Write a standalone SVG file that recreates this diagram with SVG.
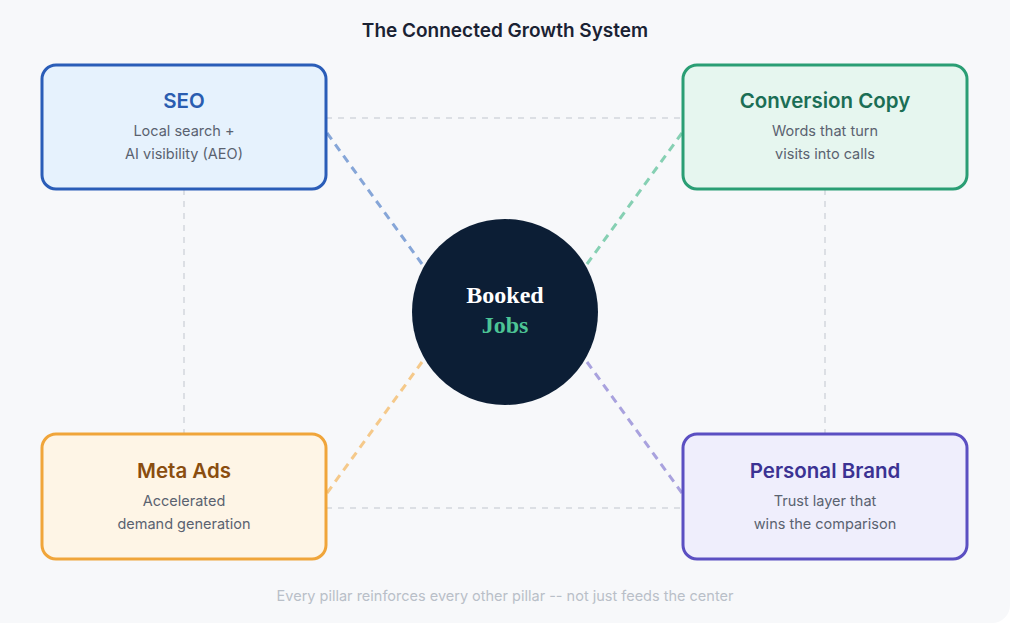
<svg xmlns="http://www.w3.org/2000/svg" width="1024" height="627" viewBox="0 0 1024 627">
<defs>
<style>
.box{stroke-width:3}
.t{font-family:Inter,"Noto Sans","Liberation Sans",sans-serif;text-anchor:middle}
.h{font-size:20.5px;font-weight:600}
.s{font-size:14.5px;fill:#5a6270}
.grid{stroke:#dcdfe4;stroke-width:2;stroke-dasharray:6 6;fill:none}
.spoke{stroke-width:3;stroke-dasharray:8 6;fill:none}
</style>
</defs>
<rect x="0" y="0" width="1024" height="627" fill="#ffffff"/>
<rect x="-20" y="-20" width="1030" height="643" rx="18" fill="#f7f8fa"/>
<text class="t" x="505" y="37" font-size="19" font-weight="600" fill="#1a2233">The Connected Growth System</text>
<g id="connectors">
<line class="grid" x1="326" y1="118" x2="683" y2="118"/>
<line class="grid" x1="326" y1="508" x2="683" y2="508"/>
<line class="grid" x1="184" y1="189" x2="184" y2="434"/>
<line class="grid" x1="825" y1="189" x2="825" y2="434"/>
<line class="spoke" x1="327" y1="133" x2="422" y2="264" stroke="#86a6d8"/>
<line class="spoke" x1="682" y1="133" x2="587" y2="264" stroke="#86d0b3"/>
<line class="spoke" x1="327" y1="493" x2="422" y2="362" stroke="#f5c98a"/>
<line class="spoke" x1="682" y1="493" x2="587" y2="362" stroke="#a9a2de"/>
</g>
<g id="seo">
<rect class="box" x="42" y="65" width="284" height="124" rx="14" fill="#e6f2fd" stroke="#2a5db8"/>
<text class="t h" x="184" y="108" fill="#2a5db0">SEO</text>
<text class="t s" x="184" y="136">Local search +</text>
<text class="t s" x="184" y="159">AI visibility (AEO)</text>
</g>
<g id="conversion-copy">
<rect class="box" x="683" y="65" width="284" height="124" rx="14" fill="#e6f6ef" stroke="#2a9e74"/>
<text class="t h" x="825" y="108" fill="#1b6e55">Conversion Copy</text>
<text class="t s" x="825" y="136">Words that turn</text>
<text class="t s" x="825" y="159">visits into calls</text>
</g>
<g id="meta-ads">
<rect class="box" x="42" y="434" width="284" height="125" rx="14" fill="#fef5e6" stroke="#f0a53a"/>
<text class="t h" x="184" y="478" fill="#8a4d0f">Meta Ads</text>
<text class="t s" x="184" y="506">Accelerated</text>
<text class="t s" x="184" y="529">demand generation</text>
</g>
<g id="personal-brand">
<rect class="box" x="683" y="434" width="284" height="125" rx="14" fill="#efeefc" stroke="#5b4fc2"/>
<text class="t h" x="825" y="478" fill="#3b3293">Personal Brand</text>
<text class="t s" x="825" y="506">Trust layer that</text>
<text class="t s" x="825" y="529">wins the comparison</text>
</g>
<g id="booked-jobs">
<circle cx="505" cy="312" r="93" fill="#0c1e35"/>
<text x="505" y="303" text-anchor="middle" font-family="'Liberation Serif','DejaVu Serif',serif" font-weight="700" font-size="24" fill="#ffffff">Booked</text>
<text x="505" y="333" text-anchor="middle" font-family="'Liberation Serif','DejaVu Serif',serif" font-weight="700" font-size="24" fill="#4cc495">Jobs</text>
</g>
<text class="t" x="505" y="601" font-size="14.5" fill="#b9bfc8">Every pillar reinforces every other pillar -- not just feeds the center</text>
</svg>
